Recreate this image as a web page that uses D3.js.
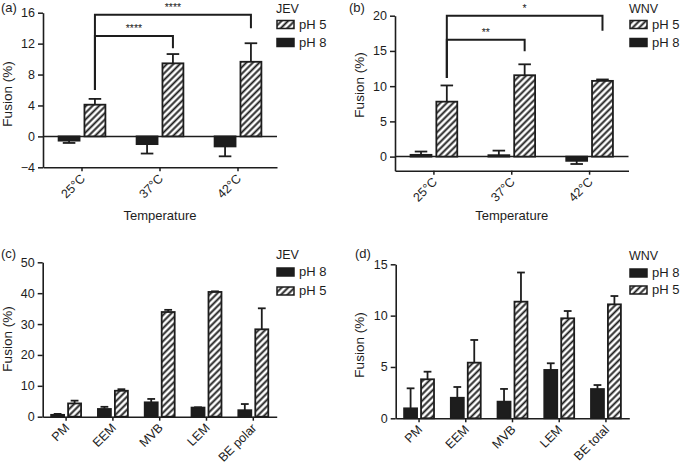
<!DOCTYPE html>
<html><head><meta charset="utf-8">
<script src="https://cdn.jsdelivr.net/npm/d3@7"></script>
<style>
html,body{margin:0;padding:0;background:#fff;}
svg{display:block;font-family:"Liberation Sans",Arial,Helvetica,sans-serif;}
</style></head>
<body>
<svg id="chart" width="684" height="469"></svg>
<script>
// ---------------- DATA ----------------
const seriesKeys = ["pH 8", "pH 5"];
const tempCategories = ["25\u00b0C", "37\u00b0C", "42\u00b0C"];
const jevTempPH8 = [-0.55, -1.0, -1.3];
const jevTempPH8Err = [0.3, 1.22, 1.28];
const jevTempPH5 = [4.1, 9.45, 9.65];
const jevTempPH5Err = [0.75, 1.2, 2.4];
const wnvTempPH8 = [0.25, 0.2, -0.6];
const wnvTempPH8Err = [0.47, 0.65, 0.45];
const wnvTempPH5 = [7.8, 11.55, 10.75];
const wnvTempPH5Err = [2.3, 1.55, 0.2];

const jevMemCategories = ["PM", "EEM", "MVB", "LEM", "BE polar"];
const jevMemPH8 = [0.6, 2.5, 4.65, 2.95, 2.1];
const jevMemPH8Err = [0.3, 0.7, 1.1, 0.1, 2.0];
const jevMemPH5 = [4.3, 8.4, 33.9, 40.4, 28.3];
const jevMemPH5Err = [0.9, 0.5, 0.7, 0.2, 6.8];

const wnvMemCategories = ["PM", "EEM", "MVB", "LEM", "BE total"];
const wnvMemPH8 = [0.97, 2.0, 1.62, 4.71, 2.85];
const wnvMemPH8Err = [1.95, 1.05, 1.24, 0.65, 0.39];
const wnvMemPH5 = [3.8, 5.42, 11.36, 9.74, 11.1];
const wnvMemPH5Err = [0.74, 2.21, 2.84, 0.71, 0.81];

const ticksA = [-4, 0, 4, 8, 12, 16];
const ticksB = [0, 5, 10, 15, 20];
const ticksC = [0, 10, 20, 30, 40, 50];
const ticksD = [0, 5, 10, 15];

// significance brackets: category indices (pH 5 bars), bracket level, leg ends, label
const sigA = [
  {from: 0, to: 1, level: 13.0, leftEnd: 6.0, rightEnd: 11.4, label: "****"},
  {from: 0, to: 2, level: 15.74, leftEnd: 6.0, rightEnd: 14.0, label: "****"}
];
const sigB = [
  {from: 0, to: 1, level: 16.6, leftEnd: 11.15, rightEnd: 14.96, label: "**"},
  {from: 0, to: 2, level: 20.0, leftEnd: 11.15, rightEnd: 17.85, label: "*"}
];

// ---------------- DRAWING ----------------
const INK = "#1d1d1d";
const svg = d3.select("#chart");
const defs = svg.append("defs");
const hp = defs.append("pattern").attr("id", "hatch")
  .attr("patternUnits", "userSpaceOnUse").attr("width", 4.6).attr("height", 4.6)
  .attr("patternTransform", "rotate(45)");
hp.append("rect").attr("width", 4.6).attr("height", 4.6).attr("fill", "#fff");
hp.append("line").attr("x1", 2.3).attr("x2", 2.3).attr("y1", 0).attr("y2", 4.6)
  .attr("stroke", INK).attr("stroke-width", 1.9);

function fillFor(key) { return key === "pH 5" ? "url(#hatch)" : INK; }

function drawPanel(o) {
  const g = svg.append("g");
  const x0 = d3.scaleBand().domain(o.categories).range(o.xRange)
    .paddingInner(o.padInner).paddingOuter(o.padOuter);
  const x1 = d3.scaleBand().domain(seriesKeys).range([0, x0.bandwidth()])
    .paddingInner(o.padSeries);
  const y = d3.scaleLinear().domain(o.yDomain).range(o.yRange);

  const rows = [];
  o.categories.forEach((c, i) => {
    rows.push({cat: c, key: "pH 8", v: o.ph8[i], e: o.ph8Err[i]});
    rows.push({cat: c, key: "pH 5", v: o.ph5[i], e: o.ph5Err[i]});
  });

  // zero line
  if (o.yDomain[0] < 0) {
    g.append("line").attr("x1", o.xRange[0]).attr("x2", o.xRange[1])
      .attr("y1", y(0)).attr("y2", y(0)).attr("stroke", INK).attr("stroke-width", 1.5);
  }

  // bars
  g.selectAll("rect.bar").data(rows).join("rect").attr("class", "bar")
    .attr("x", d => x0(d.cat) + x1(d.key))
    .attr("width", x1.bandwidth())
    .attr("y", d => y(Math.max(0, d.v)))
    .attr("height", d => Math.abs(y(d.v) - y(0)))
    .attr("fill", d => fillFor(d.key))
    .attr("stroke", INK).attr("stroke-width", 1.8);

  // error bars
  const cw = x1.bandwidth() * 0.3;
  rows.forEach(d => {
    const cx = x0(d.cat) + x1(d.key) + x1.bandwidth() / 2;
    const end = d.v >= 0 ? d.v + d.e : d.v - d.e;
    g.append("line").attr("x1", cx).attr("x2", cx).attr("y1", y(d.v)).attr("y2", y(end))
      .attr("stroke", INK).attr("stroke-width", 1.8);
    g.append("line").attr("x1", cx - cw).attr("x2", cx + cw).attr("y1", y(end)).attr("y2", y(end))
      .attr("stroke", INK).attr("stroke-width", 1.8);
  });

  // y axis
  const ya = g.append("g").attr("transform", `translate(${o.xRange[0]},0)`)
    .call(d3.axisLeft(y).tickValues(o.ticks).tickSize(5).tickSizeOuter(0).tickPadding(3)
      .tickFormat(d => d < 0 ? "\u2212" + Math.abs(d) : d));
  ya.select(".domain").attr("stroke", INK).attr("stroke-width", 1.6);
  ya.selectAll(".tick line").attr("stroke", INK).attr("stroke-width", 1.5);
  ya.selectAll(".tick text").attr("fill", INK).attr("font-size", 12.5)
    .attr("font-family", "Liberation Sans, Arial, sans-serif");

  // x axis
  const xa = g.append("g").attr("transform", `translate(0,${y(o.yDomain[0])})`)
    .call(d3.axisBottom(x0).tickSize(4).tickSizeOuter(0));
  xa.select(".domain").attr("stroke", INK).attr("stroke-width", 1.6);
  xa.selectAll(".tick line").attr("stroke", INK).attr("stroke-width", 1.5);
  xa.selectAll(".tick text").attr("fill", INK).attr("font-size", 12.5)
    .attr("font-family", "Liberation Sans, Arial, sans-serif")
    .attr("text-anchor", "end").attr("y", 0).attr("dy", 0)
    .attr("transform", "translate(4,12) rotate(-45)");

  // axis titles
  g.append("text").attr("transform", `translate(${o.yTitleX},${o.yTitleY}) rotate(-90)`)
    .attr("text-anchor", "middle").attr("font-size", 13.5).attr("fill", INK).text("Fusion (%)");
  if (o.xTitle) {
    g.append("text").attr("x", (o.xRange[0] + o.xRange[1]) / 2).attr("y", o.xTitleY)
      .attr("text-anchor", "middle").attr("font-size", 13).attr("fill", INK).text(o.xTitle);
  }
  // panel letter
  g.append("text").attr("x", o.letterPos[0]).attr("y", o.letterPos[1])
    .attr("font-size", 13).attr("fill", INK).text(o.letter);

  // significance brackets
  (o.sig || []).forEach(s => {
    const xa_ = x0(o.categories[s.from]) + x1("pH 5") + x1.bandwidth() / 2;
    const xb_ = x0(o.categories[s.to]) + x1("pH 5") + x1.bandwidth() / 2;
    g.append("path")
      .attr("d", `M${xa_},${y(s.leftEnd)}V${y(s.level)}H${xb_}V${y(s.rightEnd)}`)
      .attr("fill", "none").attr("stroke", INK).attr("stroke-width", 2);
    g.append("text").attr("x", (xa_ + xb_) / 2).attr("y", y(s.level) - 4)
      .attr("text-anchor", "middle").attr("font-size", 10.5).attr("fill", INK).text(s.label);
  });

  // legend
  const lg = g.append("g");
  lg.append("text").attr("x", o.legend.x).attr("y", o.legend.titleY)
    .attr("font-size", 12.5).attr("fill", INK).text(o.legend.title);
  o.legend.order.forEach((k, i) => {
    const by = o.legend.itemY[i];
    lg.append("rect").attr("x", o.legend.x + 1).attr("y", by - 8).attr("width", 17).attr("height", 8)
      .attr("fill", fillFor(k)).attr("stroke", INK).attr("stroke-width", 1.5);
    lg.append("text").attr("x", o.legend.x + 23).attr("y", by)
      .attr("font-size", 13).attr("fill", INK).text(k);
  });
}

drawPanel({
  letter: "(a)", letterPos: [1, 12],
  categories: tempCategories, ph8: jevTempPH8, ph8Err: jevTempPH8Err, ph5: jevTempPH5, ph5Err: jevTempPH5Err,
  xRange: [43, 277], padInner: 0.4, padOuter: 0.2, padSeries: 0.19,
  yDomain: [-4, 16], yRange: [167.3, 12.7], ticks: ticksA,
  yTitleX: 12, yTitleY: 94, xTitle: "Temperature", xTitleY: 220,
  sig: sigA,
  legend: {x: 276, title: "JEV", titleY: 12.5, order: ["pH 5", "pH 8"], itemY: [28.5, 46.5]}
});
drawPanel({
  letter: "(b)", letterPos: [349, 12],
  categories: tempCategories, ph8: wnvTempPH8, ph8Err: wnvTempPH8Err, ph5: wnvTempPH5, ph5Err: wnvTempPH5Err,
  xRange: [395, 628.5], padInner: 0.4, padOuter: 0.2, padSeries: 0.19,
  yDomain: [-2, 20], yRange: [170.7, 15.7], ticks: ticksB,
  yTitleX: 364, yTitleY: 85, xTitle: "Temperature", xTitleY: 220,
  sig: sigB,
  legend: {x: 629, title: "WNV", titleY: 12.5, order: ["pH 5", "pH 8"], itemY: [28.5, 46.5]}
});
drawPanel({
  letter: "(c)", letterPos: [1, 258],
  categories: jevMemCategories, ph8: jevMemPH8, ph8Err: jevMemPH8Err, ph5: jevMemPH5, ph5Err: jevMemPH5Err,
  xRange: [42.7, 276.7], padInner: 0.36, padOuter: 0.18, padSeries: 0.235,
  yDomain: [0, 50], yRange: [416.7, 262.3], ticks: ticksC,
  yTitleX: 12, yTitleY: 339,
  legend: {x: 276, title: "JEV", titleY: 258.5, order: ["pH 8", "pH 5"], itemY: [276, 295]}
});
drawPanel({
  letter: "(d)", letterPos: [355, 258],
  categories: wnvMemCategories, ph8: wnvMemPH8, ph8Err: wnvMemPH8Err, ph5: wnvMemPH5, ph5Err: wnvMemPH5Err,
  xRange: [395.7, 629.3], padInner: 0.36, padOuter: 0.18, padSeries: 0.235,
  yDomain: [0, 15], yRange: [418.3, 264.3], ticks: ticksD,
  yTitleX: 364, yTitleY: 345,
  legend: {x: 629, title: "WNV", titleY: 260, order: ["pH 8", "pH 5"], itemY: [277, 294]}
});
</script>
</body></html>
